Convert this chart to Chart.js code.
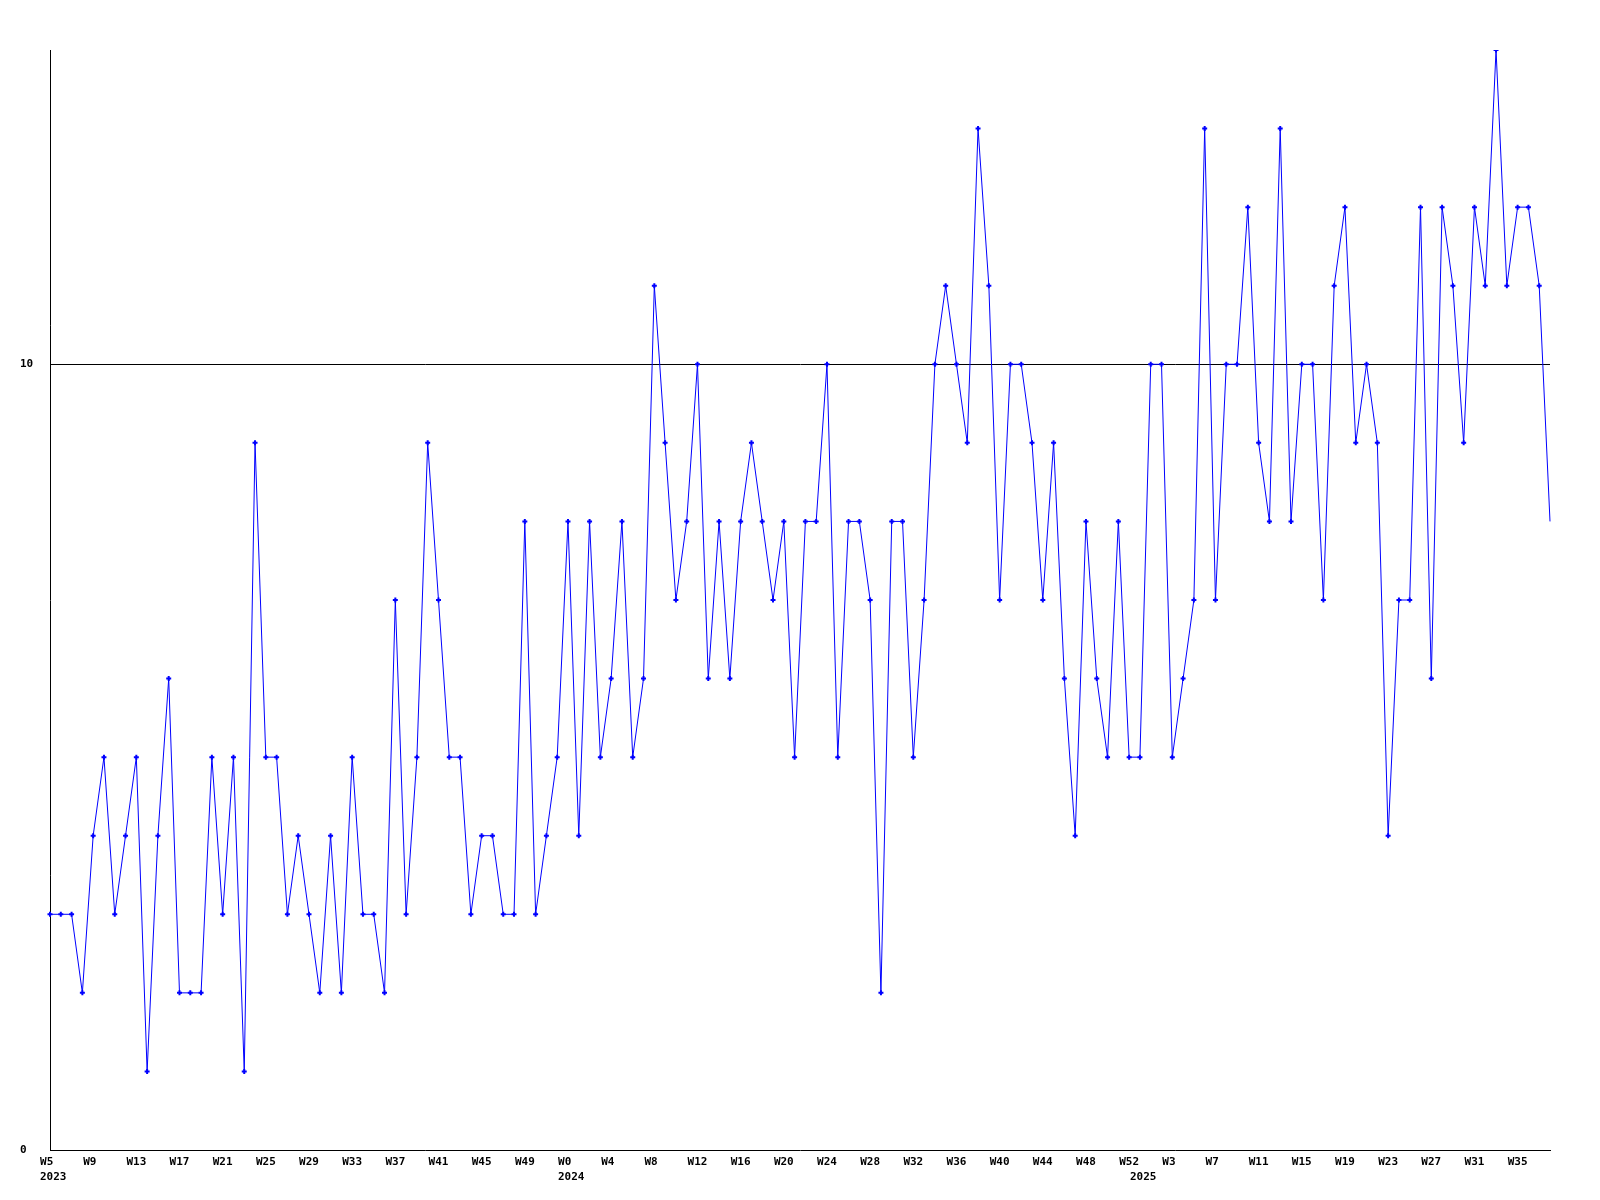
<!DOCTYPE html>
<html>
<head>
<meta charset="utf-8">
<script src="https://cdn.jsdelivr.net/npm/chart.js@4/dist/chart.umd.min.js"></script>
<style>
  html, body { margin: 0; padding: 0; background: #ffffff; }
  #wrap { width: 1600px; height: 1200px; position: relative; }
</style>
</head>
<body>
<div id="wrap"><canvas id="c" width="1600" height="1200"></canvas></div>
<script>
// ---- data ----
const categoryYears = [2023, 2024, 2025];
const firstWeekOfYear = [5, 0, 0];
const lastWeekOfYear = [52, 52, 38];

const values = [
  3, 3, 3, 2, 4, 5, 3, 4, 5, 1,
  4, 6, 2, 2, 2, 5, 3, 5, 1, 9,
  5, 5, 3, 4, 3, 2, 4, 2, 5, 3,
  3, 2, 7, 3, 5, 9, 7, 5, 5, 3,
  4, 4, 3, 3, 8, 3, 4, 5, 8, 4,
  8, 5, 6, 8, 5, 6, 11, 9, 7, 8,
  10, 6, 8, 6, 8, 9, 8, 7, 8, 5,
  8, 8, 10, 5, 8, 8, 7, 2, 8, 8,
  5, 7, 10, 11, 10, 9, 13, 11, 7, 10,
  10, 9, 7, 9, 6, 4, 8, 6, 5, 8,
  5, 5, 10, 10, 5, 6, 7, 13, 7, 10,
  10, 12, 9, 8, 13, 8, 10, 10, 7, 11,
  12, 9, 10, 9, 4, 7, 7, 12, 6, 12,
  11, 9, 12, 11, 14, 11, 12, 12, 11, 8
];

const yTickValues = [0, 10];
const yMin = 0;
const yMax = 14;
const xTickEvery = 4;

// ---- build category labels from the week tables ----
const weekLabels = [];
const yearStarts = []; // {index, year}
categoryYears.forEach((yr, k) => {
  yearStarts.push({ index: weekLabels.length, year: String(yr) });
  for (let w = firstWeekOfYear[k]; w <= lastWeekOfYear[k]; w++) {
    weekLabels.push('W' + w);
  }
});

const FONT_FAMILY = '"DejaVu Sans Mono", "Liberation Mono", monospace';
const FONT = { family: FONT_FAMILY, size: 11, weight: 'bold' };

const yearLabelPlugin = {
  id: 'yearLabels',
  afterDraw(chart) {
    const ctx = chart.ctx;
    const xs = chart.scales.x;
    ctx.save();
    ctx.font = 'bold 11px ' + FONT_FAMILY;
    ctx.fillStyle = '#000000';
    ctx.textBaseline = 'middle';
    ctx.textAlign = 'left';
    const half = ctx.measureText('WWW').width / 2;
    yearStarts.forEach(ys => {
      const px = xs.getPixelForValue(ys.index);
      ctx.fillText(ys.year, Math.round(px - half), xs.bottom - 23);
    });
    ctx.restore();
  }
};

new Chart(document.getElementById('c'), {
  type: 'line',
  data: {
    labels: weekLabels,
    datasets: [{
      data: values,
      borderColor: '#0000ff',
      backgroundColor: '#0000ff',
      borderWidth: 1,
      tension: 0,
      fill: false,
      pointStyle: 'cross',
      pointRadius: (c) => (c.dataIndex === values.length - 1 ? 0 : 2.5),
      pointBorderWidth: 2,
      pointBorderColor: '#0000ff',
      pointHoverRadius: 0
    }]
  },
  options: {
    responsive: false,
    animation: false,
    events: [],
    layout: { padding: { top: 50, right: 50, left: 20, bottom: 0 } },
    plugins: { legend: { display: false }, tooltip: { enabled: false }, title: { display: false } },
    scales: {
      x: {
        type: 'category',
        offset: false,
        grid: { display: true, drawTicks: false, color: 'rgba(0,0,0,0)' },
        border: { display: true, color: '#000000', width: 1 },
        ticks: {
          autoSkip: false,
          maxRotation: 0,
          minRotation: 0,
          padding: 6,
          color: '#000000',
          font: FONT,
          callback: function (val, index) {
            return index % xTickEvery === 0 ? weekLabels[index].padEnd(3, ' ') : null;
          }
        },
        afterFit: (s) => { s.height = 50; }
      },
      y: {
        type: 'linear',
        min: yMin,
        max: yMax,
        grid: {
          display: true,
          drawTicks: false,
          color: (c) => (c.tick && c.tick.value === 10 ? '#000000' : 'rgba(0,0,0,0)'),
          lineWidth: 1
        },
        border: { display: true, color: '#000000', width: 1 },
        ticks: {
          crossAlign: 'far',
          padding: 17,
          color: '#000000',
          font: FONT
        },
        afterBuildTicks: (s) => { s.ticks = yTickValues.map(v => ({ value: v })); },
        afterFit: (s) => { s.width = 30; }
      }
    }
  },
  plugins: [yearLabelPlugin]
});
</script>
</body>
</html>
